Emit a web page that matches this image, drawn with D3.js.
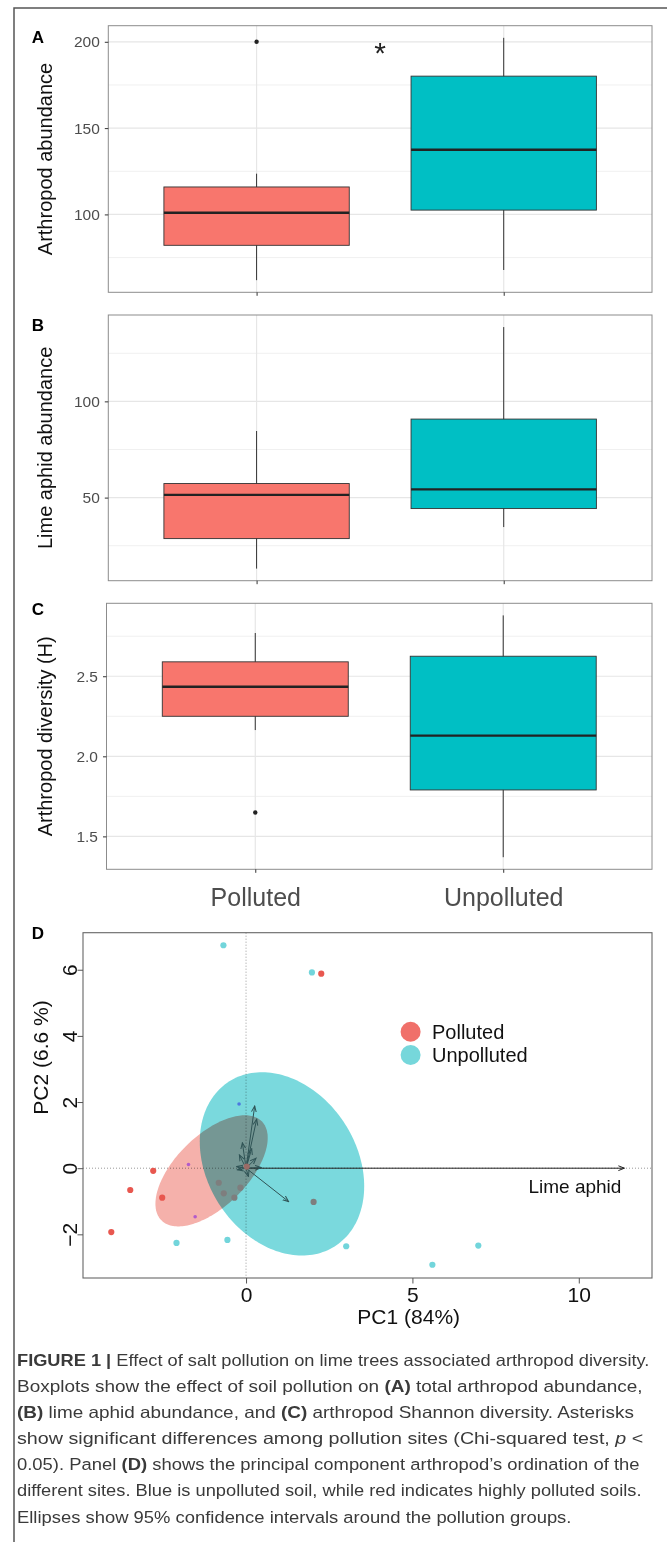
<!DOCTYPE html>
<html>
<head>
<meta charset="utf-8">
<script src="https://cdn.jsdelivr.net/npm/d3@7"></script>
<style>
  body { margin: 0; background: #fff; }
  svg text { font-family: "Liberation Sans", Arial, Helvetica, sans-serif; }
</style>
</head>
<body>
<svg id="fig" width="667" height="1542"></svg>
<script>
// ---- data ----
const groups = ["Polluted", "Unpolluted"];

// (A) arthropod abundance, box stats per group
const abundLow  = [61.9, 67.8];
const abundQ1   = [82.1, 102.5];
const abundMed  = [101.0, 137.5];
const abundQ3   = [115.9, 180.1];
const abundHigh = [123.6, 202.3];
const abundOut  = [[200], []];
const abundTicks = [100, 150, 200];

// (B) lime aphid abundance
const aphidLow  = [13.1, 34.7];
const aphidQ1   = [28.7, 44.3];
const aphidMed  = [51.4, 54.3];
const aphidQ3   = [57.3, 90.8];
const aphidHigh = [84.6, 138.6];
const aphidOut  = [[], []];
const aphidTicks = [50, 100];

// (C) arthropod diversity (H)
const divLow  = [2.164, 1.37];
const divQ1   = [2.25, 1.79];
const divMed  = [2.434, 2.129];
const divQ3   = [2.59, 2.625];
const divHigh = [2.77, 2.88];
const divOut  = [[1.649], []];
const divTicks = [1.5, 2.0, 2.5];

// (D) PCA scores
const pcaX = [-0.68, 1.98, 2.26, -2.79, -3.48, -2.52, -4.05, -1.73, -1.53, -0.21, -2.09, -0.56, 3.01, 5.60, 6.98, -0.82, -0.67, -0.35, -0.17, 2.03, 0.02];
const pcaY = [6.74, 5.92, 5.88, -0.08, -0.66, -0.89, -1.93, 0.11, -1.47, 1.94, -2.26, -2.17, -2.36, -2.92, -2.34, -0.44, -0.76, -0.89, -0.59, -1.02, 0.05];
const pcaKind = ["U", "U", "P", "P", "P", "P", "P", "m", "m", "b", "U", "U", "U", "U", "U", "g", "g", "g", "g", "g", "o"];

// loadings (arrows)
const loadX = [11.37, 1.28, 0.26, 0.32, 0.17, -0.11, -0.20, -0.28, 0.45, 0.07, 0.30, -0.26];
const loadY = [0, -1.01, 1.88, 1.48, 0.59, 0.77, 0.40, 0.05, 0.02, -0.25, 0.30, -0.05];
const loadName = ["Lime aphid", "", "", "", "", "", "", "", "", "", "", ""];

// 95% ellipses
const ellGroups = ["Polluted", "Unpolluted"];
const ellCx = [-1.036, 1.08];
const ellCy = [-0.08, 0.13];
const ellA = [2.125, 2.955];
const ellB = [1.074, 2.247];
const ellAngle = [44.8, -57.65];

const pcaXRange = [-4.9, 12.2];
const pcaYRange = [-3.32, 7.12];
const pcaXTicks = [0, 5, 10];
const pcaYTicks = [-2, 0, 2, 4, 6];

const captionLines = [
  [["FIGURE 1 | ", "b"], ["Effect of salt pollution on lime trees associated arthropod diversity.", ""]],
  [["Boxplots show the effect of soil pollution on ", ""], ["(A)", "b"], [" total arthropod abundance,", ""]],
  [["(B)", "b"], [" lime aphid abundance, and ", ""], ["(C)", "b"], [" arthropod Shannon diversity. Asterisks", ""]],
  [["show significant differences among pollution sites (Chi-squared test, ", ""], ["p", "i"], [" <", ""]],
  [["0.05). Panel ", ""], ["(D)", "b"], [" shows the principal component arthropod\u2019s ordination of the", ""]],
  [["different sites. Blue is unpolluted soil, while red indicates highly polluted soils.", ""]],
  [["Ellipses show 95% confidence intervals around the pollution groups.", ""]]
];
const captionEnds = [650, 643, 634, 644, 640, 642, 572];

// ---- drawing ----
const fills = ["#F8766D", "#00BFC4"];
const svg = d3.select("#fig");

// page frame
svg.append("path")
  .attr("d", "M14,1542V8H667")
  .attr("fill", "none")
  .attr("stroke", "#555")
  .attr("stroke-width", 1.5);

function boxPanel(p) {
  const g = svg.append("g");
  const all = p.low.concat(p.high, p.out.flat());
  const lo = d3.min(all), hi = d3.max(all);
  const pad = (hi - lo) * 0.05;
  const y = d3.scaleLinear().domain([lo - pad, hi + pad]).range([p.bottom, p.top]);
  const x = d3.scalePoint().domain(groups).range([p.left, 652]).padding(0.6);
  const bw = x.step() * 0.75;
  const st = p.ticks[1] - p.ticks[0];
  const minors = [p.ticks[0] - st / 2].concat(p.ticks.map(t => t + st / 2))
    .filter(v => v > y.domain()[0] && v < y.domain()[1]);

  g.selectAll(".minor").data(minors).join("line")
    .attr("x1", p.left).attr("x2", 652)
    .attr("y1", d => y(d)).attr("y2", d => y(d))
    .attr("stroke", "#f0f0f0").attr("stroke-width", 1);
  g.selectAll(".major").data(p.ticks).join("line")
    .attr("x1", p.left).attr("x2", 652)
    .attr("y1", d => y(d)).attr("y2", d => y(d))
    .attr("stroke", "#e6e6e6").attr("stroke-width", 1.2);
  g.selectAll(".vgrid").data(groups).join("line")
    .attr("x1", d => x(d)).attr("x2", d => x(d))
    .attr("y1", p.top).attr("y2", p.bottom)
    .attr("stroke", "#e6e6e6").attr("stroke-width", 1.2);

  // whiskers
  g.selectAll(".wh").data(groups).join("line")
    .attr("x1", d => x(d)).attr("x2", d => x(d))
    .attr("y1", (d, i) => y(p.high[i])).attr("y2", (d, i) => y(p.low[i]))
    .attr("stroke", "#333").attr("stroke-width", 1);
  // boxes
  g.selectAll(".bx").data(groups).join("rect")
    .attr("x", d => x(d) - bw / 2).attr("width", bw)
    .attr("y", (d, i) => y(p.q3[i]))
    .attr("height", (d, i) => y(p.q1[i]) - y(p.q3[i]))
    .attr("fill", (d, i) => fills[i])
    .attr("stroke", "#333").attr("stroke-width", 0.9);
  g.selectAll(".md").data(groups).join("line")
    .attr("x1", d => x(d) - bw / 2).attr("x2", d => x(d) + bw / 2)
    .attr("y1", (d, i) => y(p.med[i])).attr("y2", (d, i) => y(p.med[i]))
    .attr("stroke", "#222").attr("stroke-width", 2.4);
  // outliers
  const outs = [];
  p.out.forEach((arr, i) => arr.forEach(v => outs.push([groups[i], v])));
  g.selectAll(".out").data(outs).join("circle")
    .attr("cx", d => x(d[0])).attr("cy", d => y(d[1])).attr("r", 2.2)
    .attr("fill", "#222");

  // panel border
  g.append("rect")
    .attr("x", p.left).attr("y", p.top)
    .attr("width", 652 - p.left).attr("height", p.bottom - p.top)
    .attr("fill", "none").attr("stroke", "#8c8c8c").attr("stroke-width", 1);

  // axes
  const ay = g.append("g").attr("transform", `translate(${p.left},0)`)
    .call(d3.axisLeft(y).tickValues(p.ticks).tickSize(3.5).tickPadding(5).tickFormat(p.fmt));
  ay.select(".domain").remove();
  ay.selectAll("line").attr("stroke", "#333");
  ay.selectAll("text").attr("fill", "#4d4d4d").style("font-size", "15.5px");

  const ax = g.append("g").attr("transform", `translate(0,${p.bottom})`)
    .call(d3.axisBottom(x).tickSize(3.5).tickPadding(15.5).tickFormat(p.xlabels ? null : ""));
  ax.select(".domain").remove();
  ax.selectAll("line").attr("stroke", "#333");
  ax.selectAll("text").attr("fill", "#4d4d4d").style("font-size", "25px");

  // titles
  g.append("text")
    .attr("transform", `translate(52,${(p.top + p.bottom) / 2}) rotate(-90)`)
    .attr("text-anchor", "middle")
    .style("font-size", "20px").attr("fill", "#111")
    .text(p.title);
  g.append("text")
    .attr("x", 38).attr("y", p.letterY + 6.2)
    .attr("text-anchor", "middle")
    .style("font-size", "17px").style("font-weight", "bold")
    .text(p.letter);
  return { x, y, g };
}

const pA = boxPanel({ low: abundLow, q1: abundQ1, med: abundMed, q3: abundQ3, high: abundHigh, out: abundOut,
  ticks: abundTicks, fmt: d3.format("d"), top: 25.7, bottom: 292.3, left: 108.3,
  title: "Arthropod abundance", letter: "A", letterY: 36.7 });
pA.g.append("text")
  .attr("x", (pA.x(groups[0]) + pA.x(groups[1])) / 2)
  .attr("y", pA.y(197) + 16)
  .attr("text-anchor", "middle")
  .style("font-size", "30px").attr("fill", "#222")
  .text("*");

boxPanel({ low: aphidLow, q1: aphidQ1, med: aphidMed, q3: aphidQ3, high: aphidHigh, out: aphidOut,
  ticks: aphidTicks, fmt: d3.format("d"), top: 315, bottom: 580.7, left: 108.3,
  title: "Lime aphid abundance", letter: "B", letterY: 325 });

boxPanel({ low: divLow, q1: divQ1, med: divMed, q3: divQ3, high: divHigh, out: divOut,
  ticks: divTicks, fmt: d3.format(".1f"), top: 603.3, bottom: 869.3, left: 106.5,
  title: "Arthropod diversity (H)", letter: "C", letterY: 608.3, xlabels: true });

// ---- panel D: PCA biplot ----
const xs = d3.scaleLinear().domain(pcaXRange).range([83, 652]);
const ys = d3.scaleLinear().domain(pcaYRange).range([1278, 932.7]);
const dG = svg.append("g");

dG.append("defs").append("marker")
  .attr("id", "ah").attr("markerUnits", "userSpaceOnUse")
  .attr("markerWidth", 7).attr("markerHeight", 7)
  .attr("refX", 6).attr("refY", 3).attr("orient", "auto")
  .append("path").attr("d", "M0,0.6L6,3L0,5.4")
  .attr("fill", "none").attr("stroke", "context-stroke").attr("stroke-width", 1);

// dotted zero lines
dG.append("line").attr("x1", xs(0)).attr("x2", xs(0)).attr("y1", 932.7).attr("y2", 1278)
  .attr("stroke", "#999").attr("stroke-dasharray", "1,2");
dG.append("line").attr("x1", 83).attr("x2", 652).attr("y1", ys(0)).attr("y2", ys(0))
  .attr("stroke", "#999").attr("stroke-dasharray", "1,2");

// ellipses
const ellFill = ["#F5B1AB", "#7AD9DD"];
const ellLine = d3.line().x(d => xs(d[0])).y(d => ys(d[1]));
function ellipsePts(i) {
  const th = ellAngle[i] * Math.PI / 180;
  return d3.range(0, 2 * Math.PI + 0.001, Math.PI / 90).map(t => [
    ellCx[i] + ellA[i] * Math.cos(t) * Math.cos(th) - ellB[i] * Math.sin(t) * Math.sin(th),
    ellCy[i] + ellA[i] * Math.cos(t) * Math.sin(th) + ellB[i] * Math.sin(t) * Math.cos(th)
  ]);
}
dG.selectAll(".ell").data(ellGroups).join("path")
  .attr("d", (d, i) => ellLine(ellipsePts(i)))
  .attr("fill", (d, i) => ellFill[i])
  .style("mix-blend-mode", "multiply");

// loadings
dG.selectAll(".ld").data(loadX).join("line")
  .attr("x1", xs(0)).attr("y1", ys(0))
  .attr("x2", (d, i) => xs(d)).attr("y2", (d, i) => ys(loadY[i]))
  .attr("stroke", (d, i) => i === 0 ? "#222" : "#2f5355")
  .attr("stroke-width", 1)
  .attr("marker-end", "url(#ah)");
dG.selectAll(".ldl").data(loadName.filter(n => n)).join("text")
  .attr("x", xs(loadX[0]) - 3).attr("y", ys(loadY[0]) + 24.5)
  .attr("text-anchor", "end")
  .style("font-size", "19px").attr("fill", "#111")
  .text(d => d);

// scores
const kindColor = { U: "#72D5DB", P: "#E8574F", m: "#B25BCB", b: "#4C78E0", g: "#7E7E7E", o: "#9A6B66" };
dG.selectAll(".pt").data(pcaX).join("circle")
  .attr("cx", d => xs(d)).attr("cy", (d, i) => ys(pcaY[i]))
  .attr("r", (d, i) => (pcaKind[i] === "m" || pcaKind[i] === "b") ? 1.8 : 3.1)
  .attr("fill", (d, i) => kindColor[pcaKind[i]]);

// box and axes
dG.append("rect").attr("x", 83).attr("y", 932.7).attr("width", 652 - 83).attr("height", 1278 - 932.7)
  .attr("fill", "none").attr("stroke", "#666").attr("stroke-width", 1.1);

const dx = dG.append("g").attr("transform", "translate(0,1278)")
  .call(d3.axisBottom(xs).tickValues(pcaXTicks).tickSize(5.5).tickPadding(4).tickFormat(d3.format("d")));
dx.select(".domain").remove();
dx.selectAll("line").attr("stroke", "#555");
dx.selectAll("text").attr("fill", "#111").style("font-size", "21px");

const dy = dG.append("g").attr("transform", "translate(83,0)")
  .call(d3.axisLeft(ys).tickValues(pcaYTicks).tickSize(5.5).tickFormat(d3.format("d")));
dy.select(".domain").remove();
dy.selectAll("line").attr("stroke", "#555");
dy.selectAll("text")
  .attr("x", null).attr("dy", null)
  .attr("transform", "translate(-13.5,0) rotate(-90)")
  .attr("text-anchor", "middle")
  .attr("dy", "0.36em")
  .attr("fill", "#111").style("font-size", "21px");

dG.append("text").attr("x", 408.7).attr("y", 1324)
  .attr("text-anchor", "middle").style("font-size", "21px").attr("fill", "#111")
  .text("PC1 (84%)");
dG.append("text").attr("transform", "translate(48,1057.5) rotate(-90)")
  .attr("text-anchor", "middle").style("font-size", "21px").attr("fill", "#111")
  .text("PC2 (6.6 %)");
dG.append("text").attr("x", 38).attr("y", 932.7 + 6.2)
  .attr("text-anchor", "middle").style("font-size", "17px").style("font-weight", "bold")
  .text("D");

// legend
const legColor = ["#F0706A", "#76D7DB"];
const leg = dG.append("g");
leg.selectAll("circle").data(groups).join("circle")
  .attr("cx", 410.6).attr("cy", (d, i) => 1031.7 + i * 23.3).attr("r", 10)
  .attr("fill", (d, i) => legColor[i]);
leg.selectAll("text").data(groups).join("text")
  .attr("x", 432).attr("y", (d, i) => 1031.7 + i * 23.3 + 7)
  .style("font-size", "20px").attr("fill", "#111")
  .text(d => d);

// ---- caption ----
const cap = svg.append("g");
captionLines.forEach((segs, k) => {
  const base = 1365.9 + k * 26.1;
  const t = cap.append("text")
    .style("font-size", "16.5px").attr("fill", "#3a3a3a")
    .style("white-space", "pre");
  segs.forEach(s => {
    t.append("tspan")
      .style("font-weight", s[1] === "b" ? "bold" : "normal")
      .style("font-style", s[1] === "i" ? "italic" : "normal")
      .text(s[0]);
  });
  const w = t.node().getComputedTextLength();
  const sx = (captionEnds[k] - 17) / w;
  t.attr("transform", `translate(17,${base}) scale(${sx},1)`);
});
</script>
</body>
</html>
